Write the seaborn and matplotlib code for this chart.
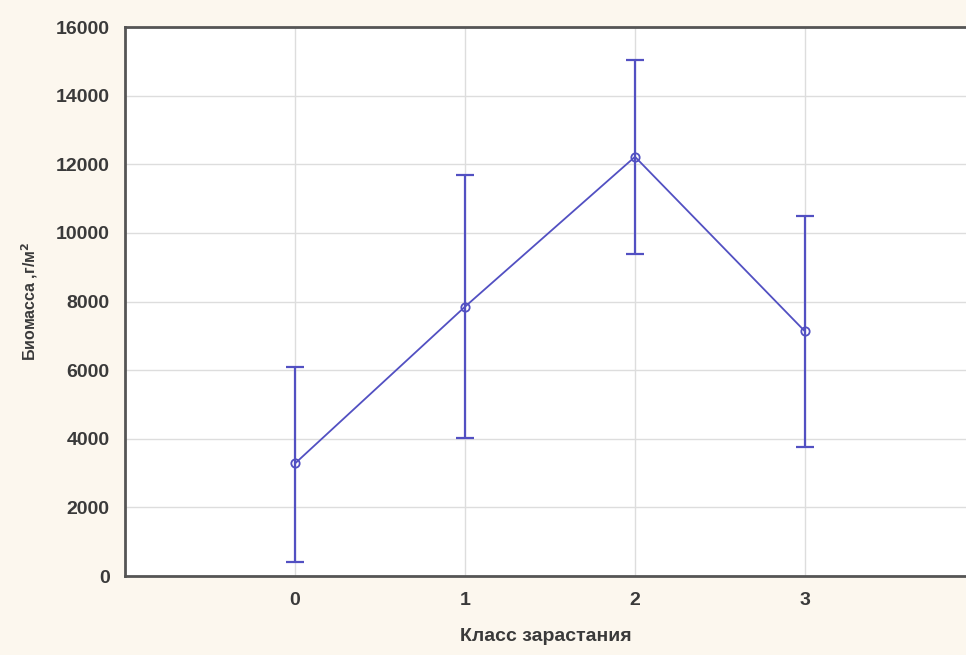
import pandas as pd
import matplotlib.pyplot as plt
import seaborn as sns

# Data
classes = [0, 1, 2, 3]
biomass_mean = [3280, 7850, 12220, 7130]
biomass_low = [420, 4020, 9400, 3760]
biomass_high = [6080, 11680, 15030, 10500]

df = pd.DataFrame({'klass': classes, 'mean': biomass_mean,
                   'low': biomass_low, 'high': biomass_high})

sns.set_style('white')
plt.rcParams['font.family'] = ['Liberation Sans', 'DejaVu Sans']

line_color = '#5250c2'
bg_color = '#fcf7ee'
text_color = '#3a3a3a'

fig = plt.figure(figsize=(9.66, 6.55), dpi=100, facecolor=bg_color)
ax = fig.add_axes([0.1294, 0.1206, 0.8706, 0.838])
ax.set_facecolor('white')

# error bars
ax.errorbar(df['klass'], df['mean'],
            yerr=[df['mean'] - df['low'], df['high'] - df['mean']],
            fmt='none', ecolor=line_color, elinewidth=1.6, capsize=6.5,
            capthick=1.6, zorder=3)

sns.lineplot(data=df, x='klass', y='mean', ax=ax, color=line_color,
             linewidth=1.3, marker='o', markersize=6,
             markerfacecolor='none', markeredgecolor=line_color,
             markeredgewidth=1.3, zorder=4)

ax.set_xlim(-1, 3.947)
ax.set_ylim(0, 16000)
ax.set_xticks(classes)
ax.set_yticks(range(0, 16001, 2000))
ax.grid(True, color='#dddddd', linewidth=1.0)
ax.set_axisbelow(True)

for side in ['left', 'bottom', 'top']:
    ax.spines[side].set_color('#555555')
    ax.spines[side].set_linewidth(2)
ax.spines['right'].set_visible(False)

ax.tick_params(axis='both', direction='in', length=3, width=1,
               colors=text_color, labelsize=14)
ax.tick_params(axis='x', pad=11.5)
ax.tick_params(axis='y', pad=11)
for lab in ax.get_xticklabels() + ax.get_yticklabels():
    lab.set_fontweight('bold')
    lab.set_color(text_color)

ax.set_xlabel('Класс зарастания', fontsize=14, fontweight='bold',
              color=text_color, labelpad=14)
ax.set_ylabel('Биомасса ,г/м$^\\mathbf{2}$', fontsize=11.5, fontweight='bold',
              color=text_color, labelpad=11)

fig.savefig('out.png', dpi=100, facecolor=bg_color)
